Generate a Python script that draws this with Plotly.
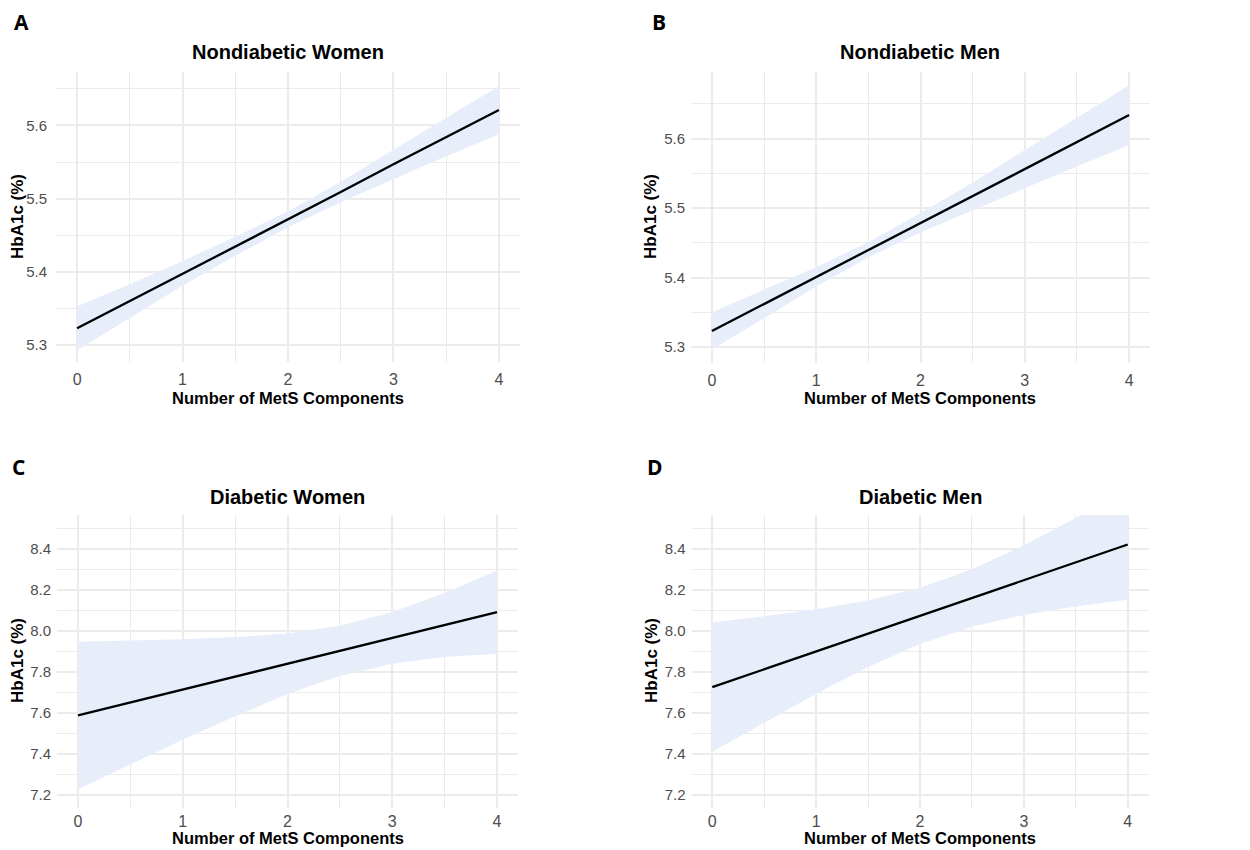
import plotly.graph_objects as go

# ---- data ----
x_vals = [0, 0.5, 1, 1.5, 2, 2.5, 3, 3.5, 4]

nw_fit   = [5.323, 5.360, 5.398, 5.435, 5.472, 5.509, 5.547, 5.584, 5.621]
nw_upper = [5.353, 5.383, 5.415, 5.448, 5.483, 5.523, 5.567, 5.610, 5.654]
nw_lower = [5.293, 5.337, 5.381, 5.422, 5.461, 5.495, 5.527, 5.558, 5.588]

nm_fit   = [5.323, 5.362, 5.401, 5.440, 5.479, 5.517, 5.556, 5.595, 5.634]
nm_upper = [5.350, 5.382, 5.415, 5.451, 5.493, 5.537, 5.583, 5.630, 5.677]
nm_lower = [5.296, 5.342, 5.387, 5.429, 5.465, 5.497, 5.529, 5.560, 5.591]

dw_fit   = [7.587, 7.650, 7.713, 7.776, 7.839, 7.902, 7.965, 8.028, 8.091]
dw_upper = [7.947, 7.951, 7.958, 7.969, 7.987, 8.025, 8.091, 8.184, 8.294]
dw_lower = [7.227, 7.349, 7.468, 7.583, 7.691, 7.779, 7.839, 7.872, 7.888]

dm_fit   = [7.725, 7.812, 7.899, 7.986, 8.073, 8.160, 8.247, 8.334, 8.421]
dm_upper = [8.041, 8.071, 8.105, 8.149, 8.210, 8.300, 8.417, 8.550, 8.691]
dm_lower = [7.409, 7.553, 7.693, 7.823, 7.936, 8.020, 8.077, 8.118, 8.151]

panel_titles = ["Nondiabetic Women", "Nondiabetic Men", "Diabetic Women", "Diabetic Men"]
panel_letters = ["A", "B", "C", "D"]
x_ticks = [0, 1, 2, 3, 4]
y_ticks_top = [5.3, 5.4, 5.5, 5.6]
y_ticks_bottom = [7.2, 7.4, 7.6, 7.8, 8.0, 8.2, 8.4]
x_title = "Number of MetS Components"
y_title = "HbA1c (%)"

panels = [
    (nw_fit, nw_upper, nw_lower),
    (nm_fit, nm_upper, nm_lower),
    (dw_fit, dw_upper, dw_lower),
    (dm_fit, dm_upper, dm_lower),
]

# ---- layout geometry (page pixels; page body has an 8px margin) ----
W, H, OFF = 1242, 842, 8
def PX(p):
    return (p - OFF) / W
def PY(p):
    return 1 - (p - OFF) / H

panel_boxes = [  # left, right, top, bottom in page pixels
    (56, 520, 72, 362),
    (691, 1150, 72, 363),
    (57, 518, 515, 808),
    (691.5, 1148.5, 515, 808),
]
y_ranges = [[5.277, 5.673], [5.277, 5.696], [7.135, 8.565], [7.135, 8.565]]
title_pos = [(288, 52), (920, 52), (287.5, 497), (920, 497)]
letter_pos = [(12, 22), (650, 22), (10, 467), (645, 467)]
xtitle_pos = [(288, 398), (920, 398), (288, 838), (920, 838)]
ytitle_pos = [(17, 217), (650, 217), (17, 661), (651, 661)]
xtick_standoff = [6, 6, 2, 2]
ytick_standoff = [8, 5, 5, 5]

GRID = "#EBEBEB"
RIBBON = "#E7EEFA"
TICKC = "#4D4D4D"
FONT = "Liberation Sans, Arial, Helvetica, sans-serif"

fig = go.Figure()

for i, (fit, up, lo) in enumerate(panels):
    n = i + 1
    xa = "x" if n == 1 else f"x{n}"
    ya = "y" if n == 1 else f"y{n}"
    fig.add_trace(go.Scatter(x=x_vals, y=lo, mode="lines", line=dict(width=0),
                             xaxis=xa, yaxis=ya, showlegend=False, hoverinfo="skip"))
    fig.add_trace(go.Scatter(x=x_vals, y=up, mode="lines", line=dict(width=0),
                             fill="tonexty", fillcolor=RIBBON,
                             xaxis=xa, yaxis=ya, showlegend=False, hoverinfo="skip"))
    fig.add_trace(go.Scatter(x=x_vals, y=fit, mode="lines", line=dict(color="black", width=2.3),
                             xaxis=xa, yaxis=ya, showlegend=False))

    top = i < 2
    yt = y_ticks_top if top else y_ticks_bottom
    if top:
        minor_y = dict(tick0=5.25, dtick=0.1, showgrid=True, gridcolor=GRID, gridwidth=1, ticks="")
    else:
        minor_y = dict(tick0=7.1, dtick=0.2, showgrid=True, gridcolor=GRID, gridwidth=1, ticks="")

    l, r, t, b = panel_boxes[i]
    xkey = "xaxis" if n == 1 else f"xaxis{n}"
    ykey = "yaxis" if n == 1 else f"yaxis{n}"
    fig.update_layout(**{
        xkey: dict(domain=[PX(l), PX(r)], anchor=ya, range=[-0.2, 4.2], automargin=False,
                   tickvals=x_ticks, ticktext=[str(v) for v in x_ticks],
                   showgrid=True, gridcolor=GRID, gridwidth=1.6, zeroline=False,
                   showline=False, ticks="", ticklen=0, ticklabelstandoff=xtick_standoff[i],
                   tickfont=dict(family=FONT, size=16, color=TICKC),
                   minor=dict(tick0=0.5, dtick=1, showgrid=True, gridcolor=GRID, gridwidth=1, ticks="")),
        ykey: dict(domain=[PY(b), PY(t)], anchor=xa, range=y_ranges[i], automargin=False,
                   tickvals=yt, ticktext=[f"{v:.1f}" for v in yt],
                   showgrid=True, gridcolor=GRID, gridwidth=1.6, zeroline=False,
                   showline=False, ticks="", ticklen=0, ticklabelstandoff=ytick_standoff[i],
                   tickfont=dict(family=FONT, size=15, color=TICKC),
                   minor=minor_y),
    })

annotations = []
for i in range(4):
    tx, ty = title_pos[i]
    annotations.append(dict(text=f"<b>{panel_titles[i]}</b>", x=PX(tx), y=PY(ty),
                            xref="paper", yref="paper", showarrow=False,
                            xanchor="center", yanchor="middle",
                            font=dict(family=FONT, size=20, color="black")))
    lx, ly = letter_pos[i]
    annotations.append(dict(text=f"<b>{panel_letters[i]}</b>", x=PX(lx), y=PY(ly),
                            xref="paper", yref="paper", showarrow=False,
                            xanchor="left", yanchor="middle",
                            font=dict(family="Open Sans, sans-serif", size=21, color="black")))
    ax, ay = xtitle_pos[i]
    annotations.append(dict(text=f"<b>{x_title}</b>", x=PX(ax), y=PY(ay),
                            xref="paper", yref="paper", showarrow=False,
                            xanchor="center", yanchor="middle",
                            font=dict(family=FONT, size=16.5, color="black")))
    bx, by = ytitle_pos[i]
    annotations.append(dict(text=f"<b>{y_title}</b>", x=PX(bx), y=PY(by),
                            xref="paper", yref="paper", showarrow=False, textangle=-90,
                            xanchor="center", yanchor="middle",
                            font=dict(family=FONT, size=17, color="black")))

fig.update_layout(width=W, height=H, margin=dict(l=0, r=0, t=0, b=0),
                  plot_bgcolor="white", paper_bgcolor="white",
                  annotations=annotations, showlegend=False)

fig.write_html("out.html")
